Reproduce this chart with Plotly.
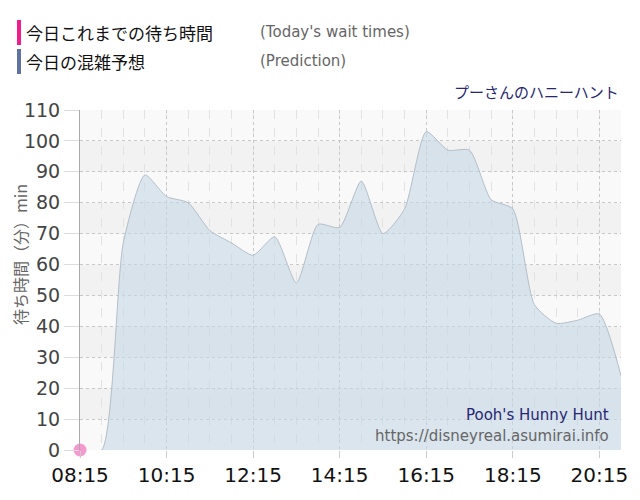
import pandas as pd
import plotly.graph_objects as go

# prediction, every 30 min
times = ["08:15", "08:45", "09:15", "09:45", "10:15", "10:45", "11:15", "11:45",
         "12:15", "12:45", "13:15", "13:45", "14:15", "14:45", "15:15", "15:45",
         "16:15", "16:45", "17:15", "17:45", "18:15", "18:45", "19:15", "19:45",
         "20:15", "20:45"]
prediction = [0, 0, 67, 89, 82, 80, 71, 67, 63, 69, 54, 73, 72, 87, 70, 78,
              103, 97, 97, 81, 78, 47, 41, 42, 44, 24]

# today's actual wait times so far
actual_times = ["08:15"]
actual_waits = [0]

tick_labels = ["08:15", "10:15", "12:15", "14:15", "16:15", "18:15", "20:15"]

day = "2024-01-01 "
x_pred = pd.to_datetime([day + t for t in times])
x_act = pd.to_datetime([day + t for t in actual_times])
x_ticks = pd.to_datetime([day + t for t in tick_labels])

# page body has an 8px margin, so the figure is a bit smaller
OFF = 8
W, H = 640 - OFF, 500 - OFF
L, R, T, B = 80 - OFF, 19, 110 - OFF, 50

def px(x):  # screen pixel -> paper x
    return (x - OFF - L) / (W - L - R)

def py(y):  # screen pixel -> paper y
    return (H + OFF - B - y) / (H - T - B)

fig = go.Figure()

fig.add_trace(go.Scatter(x=x_pred, y=prediction, mode="lines",
                         line=dict(color="#b3bfc9", width=1, shape="spline", smoothing=0.6),
                         fill="tozeroy", fillcolor="rgba(197,215,230,0.6)",
                         hoverinfo="skip", showlegend=False))
fig.add_trace(go.Scatter(x=x_act, y=actual_waits, mode="markers",
                         marker=dict(color="rgba(240,120,190,0.75)", size=13),
                         cliponaxis=False, showlegend=False))

# alternating grey bands
shapes = []
for i, lo in enumerate(range(0, 110, 10)):
    shapes.append(dict(type="rect", xref="paper", yref="y", x0=0, x1=1, y0=lo, y1=lo + 10,
                       fillcolor="#f9f9f9" if i % 2 == 0 else "#f2f2f2",
                       line=dict(width=0), layer="below"))

# custom legend
shapes.append(dict(type="rect", xref="paper", yref="paper", x0=px(17), x1=px(21),
                   y0=py(45), y1=py(20), fillcolor="#f21c8c", line=dict(width=0)))
shapes.append(dict(type="rect", xref="paper", yref="paper", x0=px(17), x1=px(21),
                   y0=py(74), y1=py(49), fillcolor="#5f72a2", line=dict(width=0)))

jp = "Noto Sans CJK JP"
ann = [
    dict(text="今日これまでの待ち時間", x=24, y=33, font=dict(size=17, color="#111", family=jp)),
    dict(text="(Today's wait times)", x=258, y=32, font=dict(size=15, color="#666", family="DejaVu Sans")),
    dict(text="今日の混雑予想", x=24, y=61, font=dict(size=17, color="#111", family=jp)),
    dict(text="(Prediction)", x=258, y=61, font=dict(size=15, color="#666", family="DejaVu Sans")),
]
annotations = []
for a in ann:
    annotations.append(dict(text=a["text"], xref="paper", yref="paper",
                            x=px(a["x"]), y=py(a["y"]), xanchor="left", yanchor="middle",
                            showarrow=False, font=a["font"]))
annotations.append(dict(text="プーさんのハニーハント", xref="paper", yref="paper",
                        x=px(621), y=py(92), xanchor="right", yanchor="middle",
                        showarrow=False, font=dict(size=15, color="#262673", family=jp)))
annotations.append(dict(text="Pooh's Hunny Hunt", xref="paper", yref="paper",
                        x=px(611), y=py(415), xanchor="right", yanchor="middle",
                        showarrow=False, font=dict(size=15, color="#262673", family="DejaVu Sans")))
annotations.append(dict(text="https://disneyreal.asumirai.info", xref="paper", yref="paper",
                        x=px(611), y=py(436), xanchor="right", yanchor="middle",
                        showarrow=False, font=dict(size=15, color="#666", family="DejaVu Sans")))
# y axis title, sits above the middle of the axis
annotations.append(dict(text="待ち時間（分）min", xref="paper", yref="paper",
                        x=px(20), y=py(255), xanchor="center", yanchor="middle", textangle=-90,
                        showarrow=False, borderpad=0,
                        font=dict(size=16, color="#666", family=jp)))

fig.update_layout(
    width=W, height=H,
    margin=dict(l=L, r=R, t=T, b=B),
    paper_bgcolor="white", plot_bgcolor="#f4f4f4",
    shapes=shapes, annotations=annotations,
    showlegend=False,
)
fig.update_xaxes(
    range=[pd.Timestamp(day + "08:15"), pd.Timestamp(day + "20:45")],
    tickvals=x_ticks, ticktext=tick_labels,
    tickfont=dict(size=20, color="#111", family="DejaVu Sans"),
    ticks="outside", ticklen=7, tickcolor="#ccc",
    showgrid=True, gridcolor="#c8c8c8", griddash="dot", gridwidth=1,
    minor=dict(dtick=30*60*1000, tick0=pd.Timestamp(day + "08:15"), showgrid=True,
               gridcolor="#e2e2e2", griddash="dash", gridwidth=1),
    showline=False, zeroline=False, automargin=False,
)
fig.update_yaxes(
    range=[0, 110], dtick=10,
    tickfont=dict(size=19, color="#444", family="DejaVu Sans"),
    ticks="outside", ticklen=15, tickcolor="#ddd",
    showgrid=True, gridcolor="#c8c8c8", griddash="dot", gridwidth=1,
    showline=True, linecolor="#aaa", linewidth=1, zeroline=False, automargin=False,
)

fig.write_html("out.html")
